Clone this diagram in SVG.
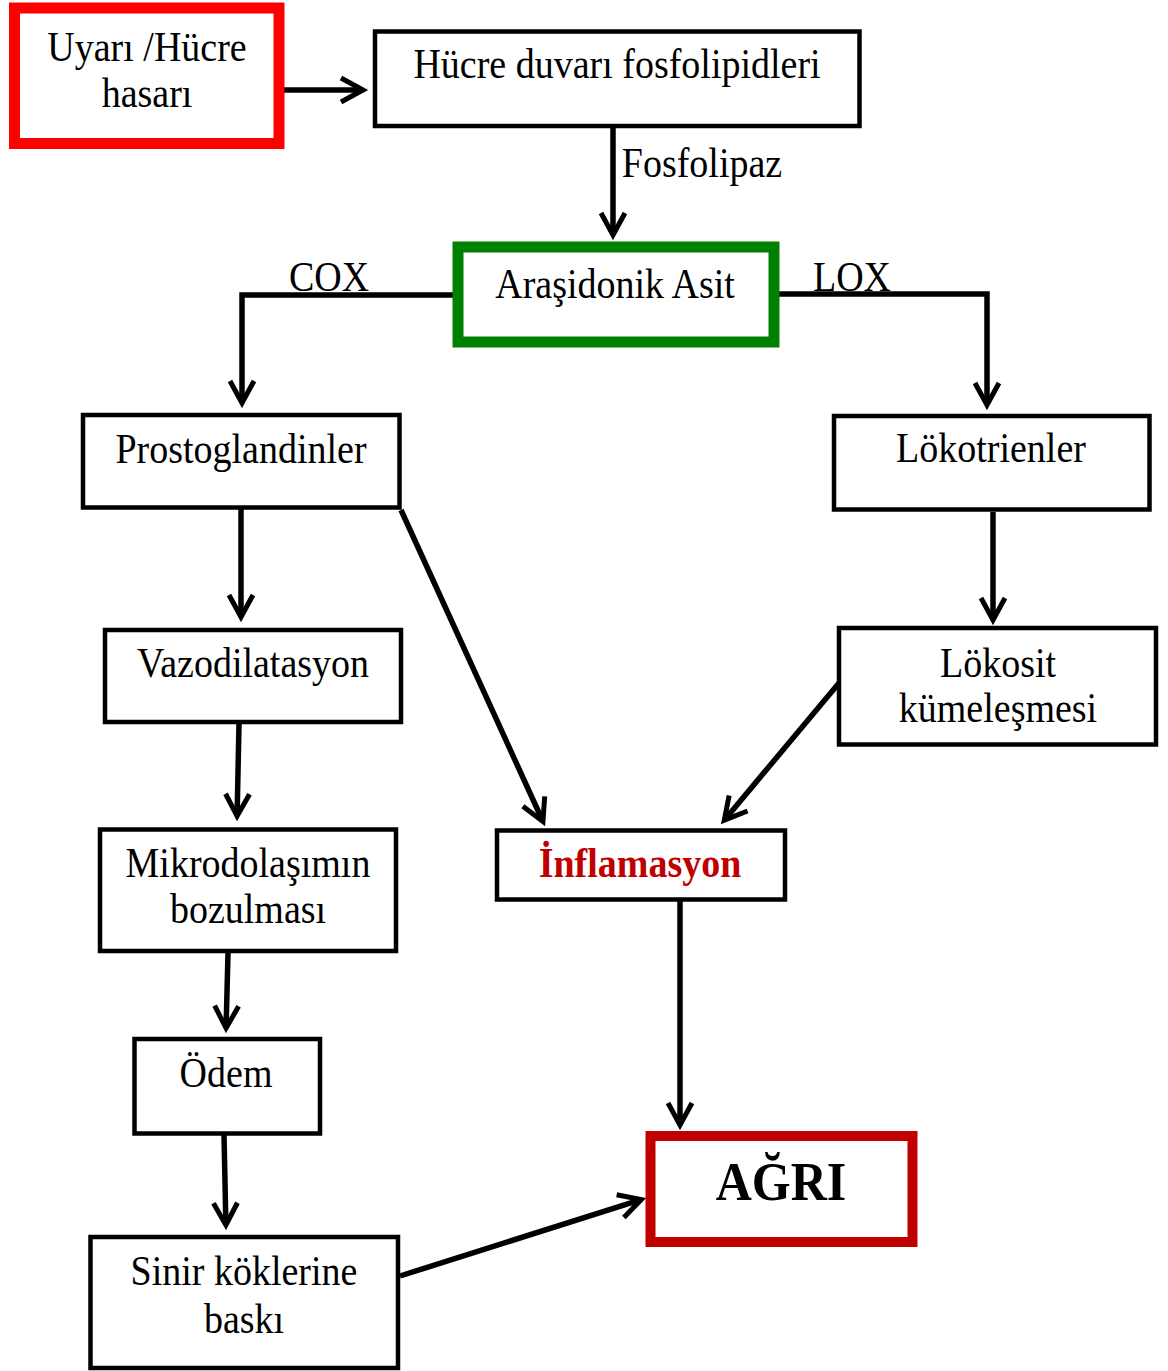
<svg xmlns="http://www.w3.org/2000/svg" width="1168" height="1371" viewBox="0 0 1168 1371">
<style>
.box{fill:#fff;stroke:#000;stroke-width:4.5}
.t{font-family:"Liberation Serif","Times New Roman",serif;font-size:38px;text-anchor:middle;fill:#000}
.b{font-weight:bold}
.con{fill:none;stroke:#000;stroke-width:5.5;stroke-linejoin:miter;marker-end:url(#ah)}
</style>
<defs>
<marker id="ah" markerUnits="userSpaceOnUse" viewBox="-32 -18 44 36" markerWidth="44" markerHeight="36" refX="-6" refY="0" orient="auto" overflow="visible">
<path d="M-27,-12 L-5,0 L-27,12" fill="none" stroke="#000" stroke-width="5" stroke-linejoin="miter"/>
</marker>
</defs>
<rect width="1168" height="1371" fill="#fff"/>
<g id="connectors">
<path class="con" d="M279,90 L362,90"/>
<path class="con" d="M613,126 L613,234"/>
<path class="con" d="M455,295 L242,295 L242,402"/>
<path class="con" d="M775,294 L987,294 L987,404"/>
<path class="con" d="M241,508 L241,616"/>
<path class="con" d="M401,510 L542.5,820.5"/>
<path class="con" d="M993,512 L993,619"/>
<path class="con" d="M839,683 L724.9,819.4"/>
<path class="con" d="M239,724 L237.1,815"/>
<path class="con" d="M228,953 L226.1,1027"/>
<path class="con" d="M224,1135 L225.9,1224"/>
<path class="con" d="M680,900 L680,1124"/>
<path class="con" d="M400,1276 L640.3,1199.8"/>
<text class="t" transform="translate(702,177) scale(1,1.1)">Fosfolipaz</text>
<text class="t" transform="translate(329,291) scale(1,1.1)">COX</text>
<text class="t" transform="translate(852,291) scale(1,1.1)">LOX</text>
</g>
<g id="uyari">
<rect x="14.5" y="8" width="264.5" height="135.5" fill="#fff" stroke="#ff0000" stroke-width="11"/>
<text class="t" transform="translate(147,61) scale(1,1.1)">Uyarı /Hücre</text>
<text class="t" transform="translate(147,107) scale(1,1.1)">hasarı</text>
</g>
<g id="hucre">
<rect class="box" x="375" y="31.5" width="484.5" height="94.5"/>
<text class="t" transform="translate(617,78) scale(1,1.1)">Hücre duvarı fosfolipidleri</text>
</g>
<g id="arasidonik">
<rect x="458" y="247" width="316" height="95" fill="#fff" stroke="#008000" stroke-width="11"/>
<text class="t" transform="translate(615,298) scale(1,1.1)">Araşidonik Asit</text>
</g>
<g id="prosto">
<rect class="box" x="83" y="415" width="316.5" height="92.5"/>
<text class="t" transform="translate(241,463) scale(1,1.1)">Prostoglandinler</text>
</g>
<g id="lokotrienler">
<rect class="box" x="834" y="416" width="315.5" height="93.5"/>
<text class="t" transform="translate(991,462) scale(1,1.1)">Lökotrienler</text>
</g>
<g id="vazo">
<rect class="box" x="105" y="630" width="296" height="92"/>
<text class="t" transform="translate(253,677) scale(1,1.1)">Vazodilatasyon</text>
</g>
<g id="lokosit">
<rect class="box" x="839" y="628" width="317" height="116.5"/>
<text class="t" transform="translate(998,677) scale(1,1.1)">Lökosit</text>
<text class="t" transform="translate(998,722) scale(1,1.1)">kümeleşmesi</text>
</g>
<g id="mikro">
<rect class="box" x="100" y="829.5" width="296" height="121.5"/>
<text class="t" transform="translate(248,877) scale(1,1.1)">Mikrodolaşımın</text>
<text class="t" transform="translate(248,923) scale(1,1.1)">bozulması</text>
</g>
<g id="inflamasyon">
<rect class="box" x="497" y="830.5" width="288" height="69"/>
<text class="t b" transform="translate(640,877) scale(1,1.1)" fill="#c00000" style="fill:#c00000">İnflamasyon</text>
</g>
<g id="odem">
<rect class="box" x="134.5" y="1039" width="185.5" height="94.5"/>
<text class="t" transform="translate(226,1087) scale(1,1.1)">Ödem</text>
</g>
<g id="agri">
<rect x="650.5" y="1136" width="262" height="106" fill="#fff" stroke="#c00000" stroke-width="10"/>
<text class="t b" transform="translate(781,1200) scale(1,1.1)" style="font-size:50px">AĞRI</text>
</g>
<g id="sinir">
<rect class="box" x="90.5" y="1237" width="307.5" height="131"/>
<text class="t" transform="translate(244,1285) scale(1,1.1)">Sinir köklerine</text>
<text class="t" transform="translate(244,1333) scale(1,1.1)">baskı</text>
</g>
</svg>
